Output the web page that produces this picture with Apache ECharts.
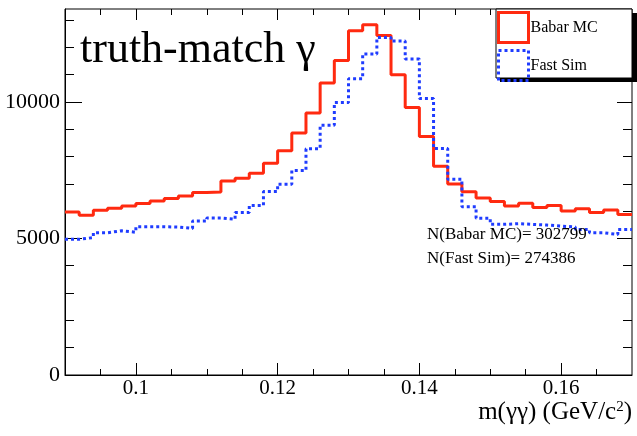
<!DOCTYPE html>
<html>
<head>
<meta charset="utf-8">
<script src="https://cdn.jsdelivr.net/npm/echarts@6/dist/echarts.min.js"></script>
<style>html,body{margin:0;padding:0;background:#fff}#c{width:637px;height:436px}</style>
</head>
<body>
<div id="c"></div>
<script>
// Histogram binning (40 bins from 0.09 to 0.17)
const binMin = 0.09;
const binWidth = 0.002;
// Bin contents
const babarMC = [5967, 5846, 6029, 6103, 6188, 6276, 6371, 6460, 6555, 6680,
                 6702, 7107, 7206, 7390, 7757, 8210, 8860, 9596, 10690, 11510,
                 12600, 12820, 12430, 10990, 9790, 8730, 7640, 6990, 6710, 6480,
                 6350, 6190, 6290, 6130, 6210, 6000, 6090, 5945, 6040, 5880];
const fastSim = [4970, 5030, 5208, 5280, 5225, 5430, 5430, 5415, 5368, 5636,
                 5750, 5699, 5950, 6210, 6717, 6985, 7490, 8285, 9145, 9975,
                 10846, 11750, 12353, 12230, 11570, 10120, 8290, 7169, 6160, 5740,
                 5515, 5540, 5515, 5490, 5453, 5417, 5331, 5208, 5147, 5331];
const seriesNames = ['Babar MC', 'Fast Sim'];
const xMajorTicks = [0.1, 0.12, 0.14, 0.16];
const xMinorTicks = [0.095, 0.105, 0.11, 0.115, 0.125, 0.13, 0.135, 0.145, 0.15, 0.155, 0.165];
const yMajorTicks = [0, 5000, 10000];
const yMinorTicks = [1000, 2000, 3000, 4000, 6000, 7000, 8000, 9000, 11000, 12000, 13000];
const titleText = 'truth-match γ';
const xTitleMain = 'm(γγ) (GeV/c';
const xTitleSup = '2';
const nTexts = ['N(Babar MC)= 302799', 'N(Fast Sim)= 274386'];

const xMin = 0.09, xMax = 0.17, yMin = 0, yMax = 13400;
const RED = '#ff2a10', BLUE = '#1f3cff';
const FONT = '"Liberation Serif", "DejaVu Serif", serif';

function toSteps(vals) {
  const pts = vals.map((v, i) => [binMin + binWidth * i, v]);
  pts.push([binMin + binWidth * vals.length, vals[vals.length - 1]]);
  return pts;
}

const gridBox = {left: 65, right: 5, top: 9, bottom: 61};
function grid(show) {
  return Object.assign({show: show, borderColor: '#000', borderWidth: 1, backgroundColor: 'transparent', containLabel: false}, gridBox);
}
function xAx(gi, pos, ticks, len, labels) {
  return {
    type: 'value', gridIndex: gi, position: pos, min: xMin, max: xMax,
    axisLine: {show: labels, onZero: false, lineStyle: {color: '#000', width: 1}},
    axisTick: {show: true, inside: true, length: len, customValues: ticks, lineStyle: {color: '#000', width: 1}},
    axisLabel: labels ? {show: true, customValues: ticks, margin: 3, color: '#000', fontFamily: FONT, fontSize: 21,
      formatter: v => String(+v.toFixed(3))} : {show: false},
    splitLine: {show: false}
  };
}
function yAx(gi, pos, ticks, len, labels) {
  return {
    type: 'value', gridIndex: gi, position: pos, min: yMin, max: yMax,
    axisLine: {show: labels, onZero: false, lineStyle: {color: '#000', width: 1}},
    axisTick: {show: true, inside: true, length: len, customValues: ticks, lineStyle: {color: '#000', width: 1}},
    axisLabel: labels ? {show: true, customValues: ticks, margin: 5, color: '#000', fontFamily: FONT, fontSize: 22,
      formatter: v => String(v)} : {show: false},
    splitLine: {show: false}
  };
}

const xAxes = [
  xAx(0, 'bottom', xMajorTicks, 12, true),
  xAx(1, 'bottom', xMinorTicks, 6, false),
  xAx(2, 'top', xMajorTicks, 11, false),
  xAx(3, 'top', xMinorTicks, 6, false)
];
xAxes[0].name = '{a|' + xTitleMain + '}{s|' + xTitleSup + '}{a|)}';
xAxes[0].nameLocation = 'end';
xAxes[0].nameGap = 0;
xAxes[0].nameTextStyle = {
  align: 'right', verticalAlign: 'top', padding: [25, 0, 0, 0], color: '#000', fontFamily: FONT, fontSize: 25,
  rich: {
    a: {fontFamily: FONT, fontSize: 25, color: '#000'},
    s: {fontFamily: FONT, fontSize: 15, color: '#000', verticalAlign: 'top', padding: [0, 0, 8, 0]}
  }
};

const option = {
  animation: false,
  backgroundColor: '#fff',
  grid: [grid(true), grid(false), grid(false), grid(false)],
  xAxis: xAxes,
  yAxis: [
    yAx(0, 'left', yMajorTicks, 17, true),
    yAx(1, 'left', yMinorTicks, 9, false),
    yAx(2, 'right', yMajorTicks, 15, false),
    yAx(3, 'right', yMinorTicks, 9, false)
  ],
  legend: {
    orient: 'vertical', left: 497, top: 11, itemWidth: 30, itemHeight: 30, itemGap: 5,
    padding: 0, z: 10, selectedMode: false,
    textStyle: {color: '#000', fontFamily: FONT, fontSize: 16, padding: [0, 0, 0, -3]},
    data: [
      {name: seriesNames[0], icon: 'rect', itemStyle: {color: 'rgba(0,0,0,0)', borderColor: RED, borderWidth: 3}, lineStyle: {opacity: 0}},
      {name: seriesNames[1], icon: 'rect', itemStyle: {color: 'rgba(0,0,0,0)', borderColor: BLUE, borderWidth: 3, borderType: [3, 3]}, lineStyle: {opacity: 0}}
    ]
  },
  graphic: [
    {type: 'rect', z: 8, shape: {x: 500, y: 13, width: 137, height: 69}, style: {fill: '#000'}},
    {type: 'rect', z: 9, shape: {x: 496, y: 9, width: 136, height: 69}, style: {fill: '#fff', stroke: '#000', lineWidth: 1}},
    {type: 'text', z: 9, left: 80, top: 28, style: {text: titleText, fill: '#000', font: '44px ' + FONT}},
    {type: 'text', z: 9, left: 427, top: 226, style: {text: nTexts[0], fill: '#000', font: '17px ' + FONT}},
    {type: 'text', z: 9, left: 427, top: 250, style: {text: nTexts[1], fill: '#000', font: '17px ' + FONT}}
  ],
  series: [
    {name: seriesNames[0], type: 'line', xAxisIndex: 0, yAxisIndex: 0, step: 'end', showSymbol: false, symbol: 'none',
     data: toSteps(babarMC), lineStyle: {color: RED, width: 3}, itemStyle: {color: RED}},
    {name: seriesNames[1], type: 'line', xAxisIndex: 0, yAxisIndex: 0, step: 'end', showSymbol: false, symbol: 'none',
     data: toSteps(fastSim), lineStyle: {color: BLUE, width: 3, type: [3, 3]}, itemStyle: {color: BLUE}}
  ]
};
const chart = echarts.init(document.getElementById('c'), null, {renderer: 'canvas'});
chart.setOption(option);
</script>
</body>
</html>
